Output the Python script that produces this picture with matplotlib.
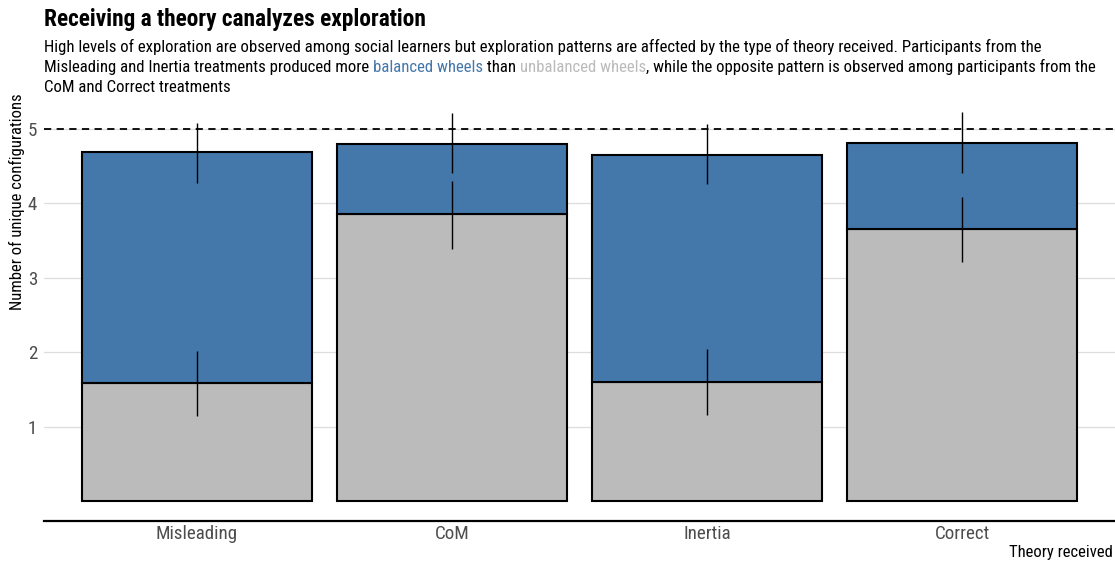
import matplotlib
matplotlib.use("Agg")
import matplotlib.pyplot as plt
from matplotlib import font_manager as fm
import numpy as np

theories = ["Misleading", "CoM", "Inertia", "Correct"]
unbalanced = [1.59, 3.85, 1.60, 3.65]
total = [4.68, 4.79, 4.65, 4.81]
balanced = [t - u for t, u in zip(total, unbalanced)]
unbalanced_lo = [1.15, 3.39, 1.16, 3.21]
unbalanced_hi = [2.02, 4.30, 2.05, 4.08]
total_lo = [4.27, 4.41, 4.26, 4.40]
total_hi = [5.08, 5.21, 5.06, 5.22]
max_configs = 5

BLUE = "#4477AA"
GREY = "#BBBBBB"

# pick a narrow font if one is installed, else Roboto
names = {f.name for f in fm.fontManager.ttflist}
FONT = "Roboto"
for cand in ["Roboto Condensed", "Liberation Sans Narrow", "Roboto"]:
    if cand in names:
        FONT = cand
        break
plt.rcParams["font.family"] = [FONT, "DejaVu Sans"]

W, H = 1115, 562
fig = plt.figure(figsize=(W / 100, H / 100), dpi=100)
ax = fig.add_axes([44 / W, 1 - 521.3 / H, 1 - 44 / W, (521.3 - 107) / H])

x = np.arange(len(theories))
ax.bar(x, unbalanced, width=0.9, color=GREY, edgecolor="black", linewidth=1.5, zorder=2)
ax.bar(x, balanced, bottom=unbalanced, width=0.9, color=BLUE, edgecolor="black",
       linewidth=1.5, zorder=2)
ax.vlines(x, unbalanced_lo, unbalanced_hi, color="black", linewidth=1, zorder=3)
ax.vlines(x, total_lo, total_hi, color="black", linewidth=1, zorder=3)
ax.axhline(max_configs, color="black", linestyle=(0, (4, 3)), linewidth=1.3, zorder=4)

ax.set_xlim(-0.6, 3.6)
y0 = 501.3
ppu = 74.53
ax.set_ylim(-(521.3 - y0) / ppu, (y0 - 107) / ppu)
ax.set_yticks([1, 2, 3, 4, 5])
ax.set_xticks(x)
ax.grid(axis="y", color="#DDDDDD", linewidth=0.9, zorder=0)
ax.set_axisbelow(True)
for s in ["top", "right", "left"]:
    ax.spines[s].set_visible(False)
ax.spines["bottom"].set_linewidth(1.6)
ax.tick_params(length=0, pad=5, colors="#4D4D4D")
ax.tick_params(axis="x", pad=2.5)

fig.canvas.draw()
r = fig.canvas.get_renderer()


def width_px(s, **kw):
    t = fig.text(0, 0, s + "x", **kw)
    w1 = t.get_window_extent(r).width
    t.remove()
    t = fig.text(0, 0, "x", **kw)
    w2 = t.get_window_extent(r).width
    t.remove()
    return w1 - w2


def fit(s, target, **kw):
    return 10 * target / width_px(s, fontsize=10, **kw)


fs_tick = fit("Misleading", 82)
fs_title = fit("Receiving a theory canalyzes exploration", 383, fontweight="bold")
line1 = ("High levels of exploration are observed among social learners but exploration "
         "patterns are affected by the type of theory received. Participants from the")
fs_sub = fit(line1, 996)
fs_lab = fit("Theory received", 103)

ax.set_xticklabels(theories, fontsize=fs_tick)
ax.set_yticklabels([str(v) for v in [1, 2, 3, 4, 5]], fontsize=fs_tick)

fig.text(44 / W, 1 - 26 / H, "Receiving a theory canalyzes exploration",
         fontsize=fs_title, fontweight="bold", va="baseline")

fig.text(44 / W, 1 - 52 / H, line1, fontsize=fs_sub, va="baseline")
segs = [("Misleading and Inertia treatments produced more ", "black"),
        ("balanced wheels", BLUE),
        (" than ", "black"),
        ("unbalanced wheels", GREY),
        (", while the opposite pattern is observed among participants from the", "black")]
xpos = 44
for s, c in segs:
    fig.text(xpos / W, 1 - 72 / H, s, fontsize=fs_sub, color=c, va="baseline")
    xpos += width_px(s, fontsize=fs_sub)
fig.text(44 / W, 1 - 92 / H, "CoM and Correct treatments", fontsize=fs_sub, va="baseline")

fig.text(1113 / W, 1 - 557 / H, "Theory received", fontsize=fs_lab, ha="right",
         va="baseline")
fig.text(17 / W, 1 - 202 / H, "Number of unique configurations", fontsize=fs_lab,
         rotation=90, ha="center", va="center")

fig.savefig("out.png", dpi=100)
